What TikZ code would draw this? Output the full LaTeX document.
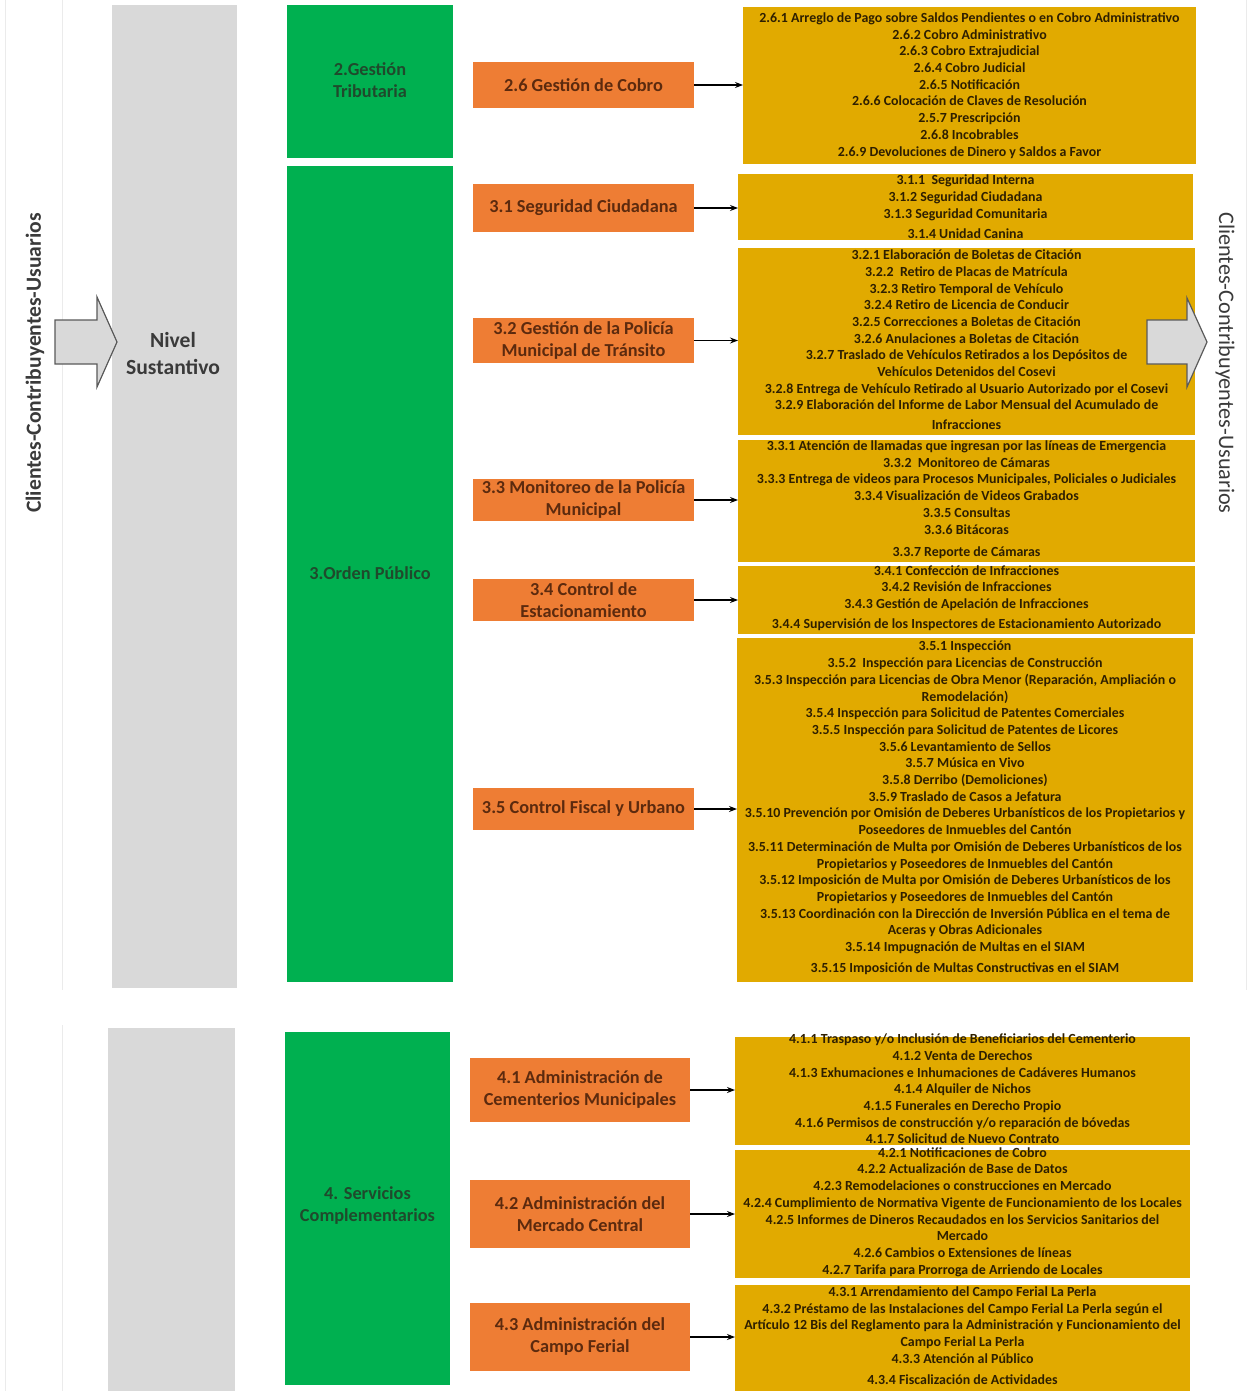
\documentclass[tikz,border=0pt]{standalone}
\usepackage{fontspec}
\setmainfont{Carlito}
\usetikzlibrary{arrows.meta}
\definecolor{gold}{HTML}{E1AA00}
\definecolor{ytext}{HTML}{2E1F00}
\definecolor{orng}{HTML}{EE7D34}
\definecolor{otext}{HTML}{5C2A0E}
\definecolor{grn}{HTML}{00B050}
\definecolor{gtext}{HTML}{1F4A2C}
\definecolor{colgray}{HTML}{D9D9D9}
\definecolor{labtext}{HTML}{3A3A3A}
\definecolor{faint}{HTML}{EBEBEB}
\definecolor{arrline}{HTML}{5A5A5A}
\tikzset{
  ybox/.style={fill=gold, draw=none, inner sep=0pt, outer sep=0pt},
  ytxt/.style={text=ytext, font=\bfseries\fontsize{13.9}{16.7}\selectfont, align=center, inner sep=0pt},
  obox/.style={fill=orng, text=otext, font=\bfseries\fontsize{18.3}{22}\selectfont, align=center, inner sep=0pt, outer sep=0pt},
  gbox/.style={fill=grn, inner sep=0pt, outer sep=0pt},
  gtxt/.style={text=gtext, font=\bfseries\fontsize{18.3}{22}\selectfont, align=center, inner sep=0pt},
  colbox/.style={fill=colgray, inner sep=0pt, outer sep=0pt},
  sidetxt/.style={text=labtext, font=\fontsize{22.2}{26}\selectfont, inner sep=0pt},
  blockarr/.style={fill=colgray, draw=arrline, line width=1.2pt, line join=miter},
  conn/.style={-{Stealth[length=8pt,width=6pt]}, line width=1.1pt, black},
  faintline/.style={draw=faint, line width=1pt}
}
\begin{document}
\begin{tikzpicture}[x=1pt,y=-1pt]
\useasboundingbox[fill=white] (0,0) rectangle (1253,1391);

% faint frame lines
\coordinate (fa1) at (5,0);   \coordinate (fa2) at (5,1391);
\coordinate (fb1) at (62,0);  \coordinate (fb2) at (62,990);
\coordinate (fb3) at (62,1025); \coordinate (fb4) at (62,1391);
\coordinate (fc1) at (1246,0); \coordinate (fc2) at (1246,990);
\draw[faintline] (fa1) -- (fa2);
\draw[faintline] (fb1) -- (fb2);
\draw[faintline] (fb3) -- (fb4);
\draw[faintline] (fc1) -- (fc2);

% gray columns
\node[colbox, minimum width=125pt, minimum height=983pt] (col1) at (174.5,496.5) {};
\node[colbox, minimum width=127pt, minimum height=363pt] (col2) at (171.5,1209.5) {};
\node[text=labtext, font=\bfseries\fontsize{21.6}{27}\selectfont, align=center, inner sep=0pt] (nivel) at (173,353) {Nivel\\Sustantivo};

% side texts
\node[sidetxt, rotate=90, font=\bfseries\fontsize{21.6}{26}\selectfont] (left) at (35,363) {Clientes-Contribuyentes-Usuarios};
\node[sidetxt, rotate=-90] (right) at (1225,363) {Clientes-Contribuyentes-Usuarios};

% left block arrow
\draw[blockarr] (55,320) -- (97,320) -- (97,297) -- (117,342) -- (97,387) -- (97,364) -- (55,364) -- cycle;

% green boxes
\node[gbox, minimum width=166pt, minimum height=153pt] (G2) at (370,81.5) {};
\node[gtxt] (G2t) at (370,80) {2.Gestión\\Tributaria};
\node[gbox, minimum width=166pt, minimum height=816pt] (G3) at (370,574) {};
\node[gtxt] (G3t) at (370,573) {3.Orden Público};
\node[gbox, minimum width=165pt, minimum height=353pt] (G4) at (367.5,1208.5) {};
\node[gtxt] (G4t) at (367.5,1206) {4. Servicios\\Complementarios};

% orange boxes
\node[obox, minimum width=221pt, minimum height=46pt] (O26) at (583.5,85) {2.6 Gestión de Cobro};
\node[obox, minimum width=221pt, minimum height=48pt] (O31) at (583.5,208) {3.1 Seguridad Ciudadana};
\node[obox, minimum width=221pt, minimum height=45pt] (O32) at (583.5,340.5) {3.2 Gestión de la Policía\\Municipal de Tránsito};
\node[obox, minimum width=221pt, minimum height=42pt] (O33) at (583.5,500) {3.3 Monitoreo de la Policía\\Municipal};
\node[obox, minimum width=221pt, minimum height=42pt] (O34) at (583.5,600) {3.4 Control de\\Estacionamiento};
\node[obox, minimum width=221pt, minimum height=42pt] (O35) at (583.5,809) {3.5 Control Fiscal y Urbano};
\node[obox, minimum width=220pt, minimum height=64pt] (O41) at (580,1090) {4.1 Administración de\\Cementerios Municipales};
\node[obox, minimum width=220pt, minimum height=68pt] (O42) at (580,1214) {4.2 Administración del\\Mercado Central};
\node[obox, minimum width=220pt, minimum height=68pt] (O43) at (580,1337) {4.3 Administración del\\Campo Ferial};

% yellow boxes
\node[ybox, minimum width=453pt, minimum height=157pt] (Y26) at (969.5,85.5) {};
\node[ybox, minimum width=455pt, minimum height=66pt] (Y31) at (965.5,207) {};
\node[ybox, minimum width=457pt, minimum height=187pt] (Y32) at (966.5,341.5) {};
\node[ybox, minimum width=457pt, minimum height=122pt] (Y33) at (966.5,501) {};
\node[ybox, minimum width=457pt, minimum height=68pt] (Y34) at (966.5,600) {};
\node[ybox, minimum width=456pt, minimum height=344pt] (Y35) at (965,810) {};
\node[ybox, minimum width=455pt, minimum height=108pt] (Y41) at (962.5,1091) {};
\node[ybox, minimum width=455pt, minimum height=128pt] (Y42) at (962.5,1214) {};
\node[ybox, minimum width=455pt, minimum height=106pt] (Y43) at (962.5,1338) {};

% yellow texts
\node[ytxt] (Y26t) at (969.5,85.5) {2.6.1 Arreglo de Pago sobre Saldos Pendientes o en Cobro Administrativo\\
2.6.2 Cobro Administrativo\\
2.6.3 Cobro Extrajudicial\\
2.6.4 Cobro Judicial\\
2.6.5 Notificación\\
2.6.6 Colocación de Claves de Resolución\\
2.5.7 Prescripción\\
2.6.8 Incobrables\\
2.6.9 Devoluciones de Dinero y Saldos a Favor};

\node[ytxt] (Y31t) at (965.5,206.5) {3.1.1\ \ Seguridad Interna\\
3.1.2 Seguridad Ciudadana\\
3.1.3 Seguridad Comunitaria\\[3.3pt]
3.1.4 Unidad Canina};

\node[ytxt] (Y32t) at (966.5,340) {3.2.1 Elaboración de Boletas de Citación\\
3.2.2\ \ Retiro de Placas de Matrícula\\
3.2.3 Retiro Temporal de Vehículo\\
3.2.4 Retiro de Licencia de Conducir\\
3.2.5 Correcciones a Boletas de Citación\\
3.2.6 Anulaciones a Boletas de Citación\\
3.2.7 Traslado de Vehículos Retirados a los Depósitos de\\
Vehículos Detenidos del Cosevi\\
3.2.8 Entrega de Vehículo Retirado al Usuario Autorizado por el Cosevi\\
3.2.9 Elaboración del Informe de Labor Mensual del Acumulado de\\[3.3pt]
Infracciones};

\node[ytxt] (Y33t) at (966.5,499.5) {3.3.1 Atención de llamadas que ingresan por las líneas de Emergencia\\
3.3.2\ \ Monitoreo de Cámaras\\
3.3.3 Entrega de videos para Procesos Municipales, Policiales o Judiciales\\
3.3.4 Visualización de Videos Grabados\\
3.3.5 Consultas\\
3.3.6 Bitácoras\\[5.3pt]
3.3.7 Reporte de Cámaras};

\node[ytxt] (Y34t) at (966.5,598) {3.4.1 Confección de Infracciones\\
3.4.2 Revisión de Infracciones\\
3.4.3 Gestión de Apelación de Infracciones\\[3.3pt]
3.4.4 Supervisión de los Inspectores de Estacionamiento Autorizado};

\node[ytxt] (Y35t) at (965,808) {3.5.1 Inspección\\
3.5.2\ \ Inspección para Licencias de Construcción\\
3.5.3 Inspección para Licencias de Obra Menor (Reparación, Ampliación o\\
Remodelación)\\
3.5.4 Inspección para Solicitud de Patentes Comerciales\\
3.5.5 Inspección para Solicitud de Patentes de Licores\\
3.5.6 Levantamiento de Sellos\\
3.5.7 Música en Vivo\\
3.5.8 Derribo (Demoliciones)\\
3.5.9 Traslado de Casos a Jefatura\\
3.5.10 Prevención por Omisión de Deberes Urbanísticos de los Propietarios y\\
Poseedores de Inmuebles del Cantón\\
3.5.11 Determinación de Multa por Omisión de Deberes Urbanísticos de los\\
Propietarios y Poseedores de Inmuebles del Cantón\\
3.5.12 Imposición de Multa por Omisión de Deberes Urbanísticos de los\\
Propietarios y Poseedores de Inmuebles del Cantón\\
3.5.13 Coordinación con la Dirección de Inversión Pública en el tema de\\
Aceras y Obras Adicionales\\
3.5.14 Impugnación de Multas en el SIAM\\[4.3pt]
3.5.15 Imposición de Multas Constructivas en el SIAM};

\node[ytxt] (Y41t) at (962.5,1089) {4.1.1 Traspaso y/o Inclusión de Beneficiarios del Cementerio\\
4.1.2 Venta de Derechos\\
4.1.3 Exhumaciones e Inhumaciones de Cadáveres Humanos\\
4.1.4 Alquiler de Nichos\\
4.1.5 Funerales en Derecho Propio\\
4.1.6 Permisos de construcción y/o reparación de bóvedas\\
4.1.7 Solicitud de Nuevo Contrato};

\node[ytxt] (Y42t) at (962.5,1212) {4.2.1 Notificaciones de Cobro\\
4.2.2 Actualización de Base de Datos\\
4.2.3 Remodelaciones o construcciones en Mercado\\
4.2.4 Cumplimiento de Normativa Vigente de Funcionamiento de los Locales\\
4.2.5 Informes de Dineros Recaudados en los Servicios Sanitarios del\\
Mercado\\
4.2.6 Cambios o Extensiones de líneas\\
4.2.7 Tarifa para Prorroga de Arriendo de Locales};

\node[ytxt] (Y43t) at (962.5,1335.5) {4.3.1 Arrendamiento del Campo Ferial La Perla\\
4.3.2 Préstamo de las Instalaciones del Campo Ferial La Perla según el\\
Artículo 12 Bis del Reglamento para la Administración y Funcionamiento del\\
Campo Ferial La Perla\\
4.3.3 Atención al Público\\[4.3pt]
4.3.4 Fiscalización de Actividades};

% connectors
\draw[conn] (O26.east) -- (O26.east -| Y26.west);
\draw[conn] (O31.east) -- (O31.east -| Y31.west);
\draw[conn] (O32.east) -- (O32.east -| Y32.west);
\draw[conn] (O33.east) -- (O33.east -| Y33.west);
\draw[conn] (O34.east) -- (O34.east -| Y34.west);
\draw[conn] (O35.east) -- (O35.east -| Y35.west);
\draw[conn] (O41.east) -- (O41.east -| Y41.west);
\draw[conn] (O42.east) -- (O42.east -| Y42.west);
\draw[conn] (O43.east) -- (O43.east -| Y43.west);

% right block arrow
\draw[blockarr] (1147,320) -- (1187,320) -- (1187,298) -- (1207,342) -- (1187,387) -- (1187,364) -- (1147,364) -- cycle;
\end{tikzpicture}
\end{document}
